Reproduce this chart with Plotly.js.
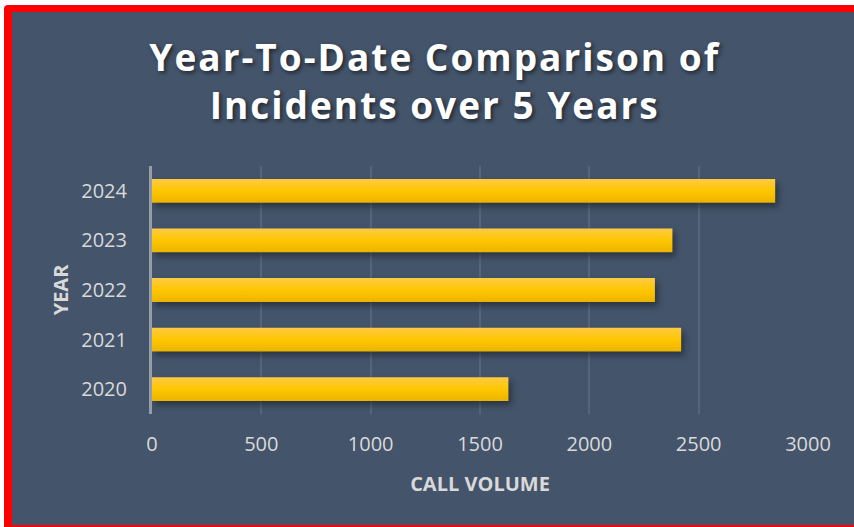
<!DOCTYPE html>
<html>
<head>
<meta charset="utf-8">
<script src="https://cdn.plot.ly/plotly-3.0.1.min.js"></script>
<style>
  html, body { margin: 0; padding: 0; background: #ffffff; width: 854px; height: 527px; overflow: hidden; }
  #frame { position: absolute; left: 4px; top: 5px; width: 870px; height: 540px; background: #ff0000; border-top-left-radius: 4px; }
  #chart { position: absolute; left: 12px; top: 12px; width: 842px; height: 513px; }
  .bars path { fill: url(#goldgrad) !important; filter: drop-shadow(3px 4px 3px rgba(20,25,35,0.55)); }
  .gtitle { letter-spacing: 2px; }
</style>
</head>
<body>
<svg width="0" height="0" style="position:absolute">
  <defs>
    <linearGradient id="goldgrad" x1="0" y1="0" x2="0" y2="1">
      <stop offset="0" stop-color="#ffca45"/>
      <stop offset="0.5" stop-color="#ffc700"/>
      <stop offset="1" stop-color="#ebb400"/>
    </linearGradient>
  </defs>
</svg>
<div id="frame"></div>
<div id="chart"></div>
<script>
const years = ["2020", "2021", "2022", "2023", "2024"];
const callVolume = [1630, 2420, 2300, 2380, 2850];
const xTicks = [0, 500, 1000, 1500, 2000, 2500, 3000];

const data = [{
  type: "bar",
  orientation: "h",
  y: years,
  x: callVolume,
  marker: { color: "#ffc700", line: { width: 0 } },
  hoverinfo: "x+y"
}];

const tickFont = { family: "Open Sans, sans-serif", size: 20, color: "#d9d9d9" };
const layout = {
  width: 842,
  height: 513,
  paper_bgcolor: "#44546a",
  plot_bgcolor: "#44546a",
  margin: { l: 140, r: 46, t: 154, b: 111 },
  bargap: 0.52,
  showlegend: false,
  title: {
    text: "Year-To-Date Comparison of<br>Incidents over 5 Years",
    x: 0.502,
    xref: "container",
    y: 0.885,
    yref: "container",
    yanchor: "top",
    font: { family: "Open Sans, sans-serif", size: 37, weight: 700, color: "#ffffff", shadow: "2px 2px 4px rgba(0,0,0,0.55)" }
  },
  xaxis: {
    range: [0, 3000],
    tickvals: xTicks,
    ticktext: xTicks.map(String),
    showgrid: true,
    gridcolor: "rgba(255,255,255,0.10)",
    gridwidth: 2,
    zeroline: false,
    showline: false,
    ticks: "",
    ticklabelstandoff: 16,
    tickfont: tickFont,
    title: { text: "CALL VOLUME", standoff: 20, font: { family: "Open Sans, sans-serif", size: 20, weight: 700, color: "#d9d9d9" } },
    fixedrange: true
  },
  yaxis: {
    type: "category",
    categoryorder: "array",
    categoryarray: years,
    showgrid: false,
    zeroline: false,
    showline: true,
    linecolor: "rgba(217,217,217,0.55)",
    linewidth: 3,
    ticks: "",
    ticklabelstandoff: 18,
    tickfont: tickFont,
    title: { text: "YEAR", standoff: 8, font: { family: "Open Sans, sans-serif", size: 20, weight: 700, color: "#d9d9d9" } },
    fixedrange: true
  }
};

Plotly.newPlot("chart", data, layout, { displayModeBar: false, staticPlot: true });
</script>
</body>
</html>
